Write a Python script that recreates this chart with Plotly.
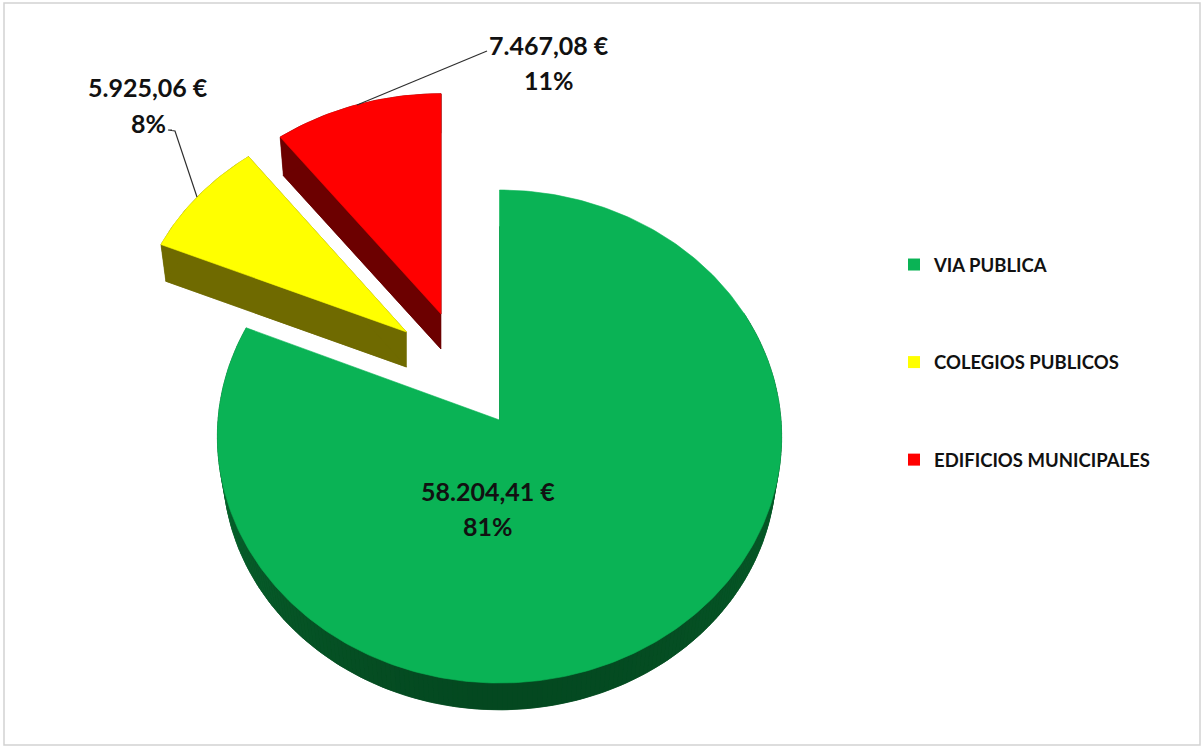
import numpy as np
import plotly.graph_objects as go

# ---- data ----
categories = ["VIA PUBLICA", "COLEGIOS PUBLICOS", "EDIFICIOS MUNICIPALES"]
amounts = [58204.41, 5925.06, 7467.08]
percent_labels = ["81%", "8%", "11%"]

# ---- styles and layout ----
top_colors = ["#0ab355", "#ffff00", "#ff0000"]
side_colors = ["#05511f", "#6f6a00", "#6c0000"]
# apex x, apex y, horizontal radius, vertical radius of each exploded slice
slice_geom = [(499.5, 420, 281.5, 245.4), (406.5, 332, 273, 233), (441, 314, 278, 235)]
slice_depth = [32, 35, 35]
label_pos = [(488, 491, 526), (148, 87, 123), (549, 45, 80)]
leaders = [
    ([172, 168, 175, 197], [130, 130, 131, 197], 1),
    ([357, 487], [105, 51], 2),
]
TILT = 0.067      # perspective of the tilted disc
BASE_SCALE = 0.98 # lower face is slightly smaller
FONT = "Lato, Carlito, Calibri, sans-serif"


def project(t, g, scale=1.0, shift=0.0):
    cx, cy, rx, ry = g
    w = 1 + TILT * np.cos(t)
    return cx + scale * rx * np.sin(t) / w, cy + shift - scale * ry * np.cos(t) / w


def euro(v):
    s = f"{v:,.2f}".replace(",", "#").replace(".", ",").replace("#", ".")
    return s + " €"


def poly(fig, x, y, color):
    fig.add_trace(go.Scatter(
        x=list(x), y=list(y), mode="lines", fill="toself", fillcolor=color,
        line=dict(color=color, width=0.6), hoverinfo="skip", showlegend=False,
    ))


def mix(a, b, f):
    return "rgb(%d,%d,%d)" % tuple(round(a[i] + (b[i] - a[i]) * f) for i in range(3))


fig = go.Figure()
total = sum(amounts)
start = 0.0
for i, (amount, g, depth) in enumerate(zip(amounts, slice_geom, slice_depth)):
    end = start + 2 * np.pi * amount / total
    t = np.linspace(start, end, max(40, int((end - start) * 60)))
    ax, ay = g[0], g[1]
    tx, ty = project(t, g)
    bx, by = project(t, g, BASE_SCALE, depth)
    # side wall
    if i == 0:
        poly(fig, np.r_[ax, bx], np.r_[ay + depth, by], side_colors[0])
        dark, left, right = (4, 72, 32), (12, 128, 60), (9, 110, 50)
        for k in range(len(t) - 1):
            mid = (t[k] + t[k + 1]) / 2
            if not (np.pi * 0.35 < mid < np.pi * 1.65):
                continue
            d = (mid - np.pi) / (np.pi * 0.65)
            col = mix(dark, left if d > 0 else right, abs(d) ** 1.6)
            poly(fig, [tx[k], tx[k + 1], bx[k + 1], bx[k]],
                 [ty[k], ty[k + 1], by[k + 1], by[k]], col)
    else:
        poly(fig, np.r_[ax, bx], np.r_[ay + depth, by], side_colors[i])
        poly(fig, [ax, tx[0], bx[0], ax], [ay, ty[0], by[0], ay + depth], side_colors[i])
        poly(fig, [ax, tx[-1], bx[-1], ax], [ay, ty[-1], by[-1], ay + depth], side_colors[i])
        poly(fig, np.r_[tx, bx[::-1]], np.r_[ty, by[::-1]], side_colors[i])
    # top face
    poly(fig, np.r_[ax, tx, ax], np.r_[ay, ty, ay], top_colors[i])
    start = end

# leader lines
for lx, ly, _ in leaders:
    fig.add_trace(go.Scatter(x=lx, y=ly, mode="lines", line=dict(color="#2e2e2e", width=1.2),
                             hoverinfo="skip", showlegend=False))

# legend entries
for name, col in zip(categories, top_colors):
    fig.add_trace(go.Scatter(x=[None], y=[None], mode="markers", name=name, legendgroup=name,
                             marker=dict(symbol="square", size=12, color=col)))

# data labels
for amount, pct, (x, y1, y2) in zip(amounts, percent_labels, label_pos):
    for txt, y in ((euro(amount), y1), (pct, y2)):
        fig.add_annotation(x=x, y=y, text=f"<b>{txt}</b>", showarrow=False, xanchor="center",
                           yanchor="middle", font=dict(family=FONT, size=25, color="#111111"))

fig.add_shape(type="rect", x0=4, y0=3, x1=1200, y1=745, xref="x", yref="y",
              line=dict(color="#d2d2d2", width=1.5), layer="below")

fig.update_layout(
    width=1202, height=747, margin=dict(l=0, r=0, t=0, b=0),
    paper_bgcolor="white", plot_bgcolor="white",
    xaxis=dict(range=[0, 1202], visible=False, fixedrange=True),
    yaxis=dict(range=[747, 0], visible=False, fixedrange=True),
    legend=dict(x=894 / 1202, y=1 - 246 / 747, xanchor="left", yanchor="top",
                tracegroupgap=70.5, itemclick=False, itemdoubleclick=False,
                bgcolor="rgba(0,0,0,0)",
                font=dict(family=FONT, size=18.5, color="#111111", weight="bold")),
    hovermode=False,
)
fig.write_html("out.html", post_script="document.body.style.margin='0';",
               config={"displayModeBar": False})
